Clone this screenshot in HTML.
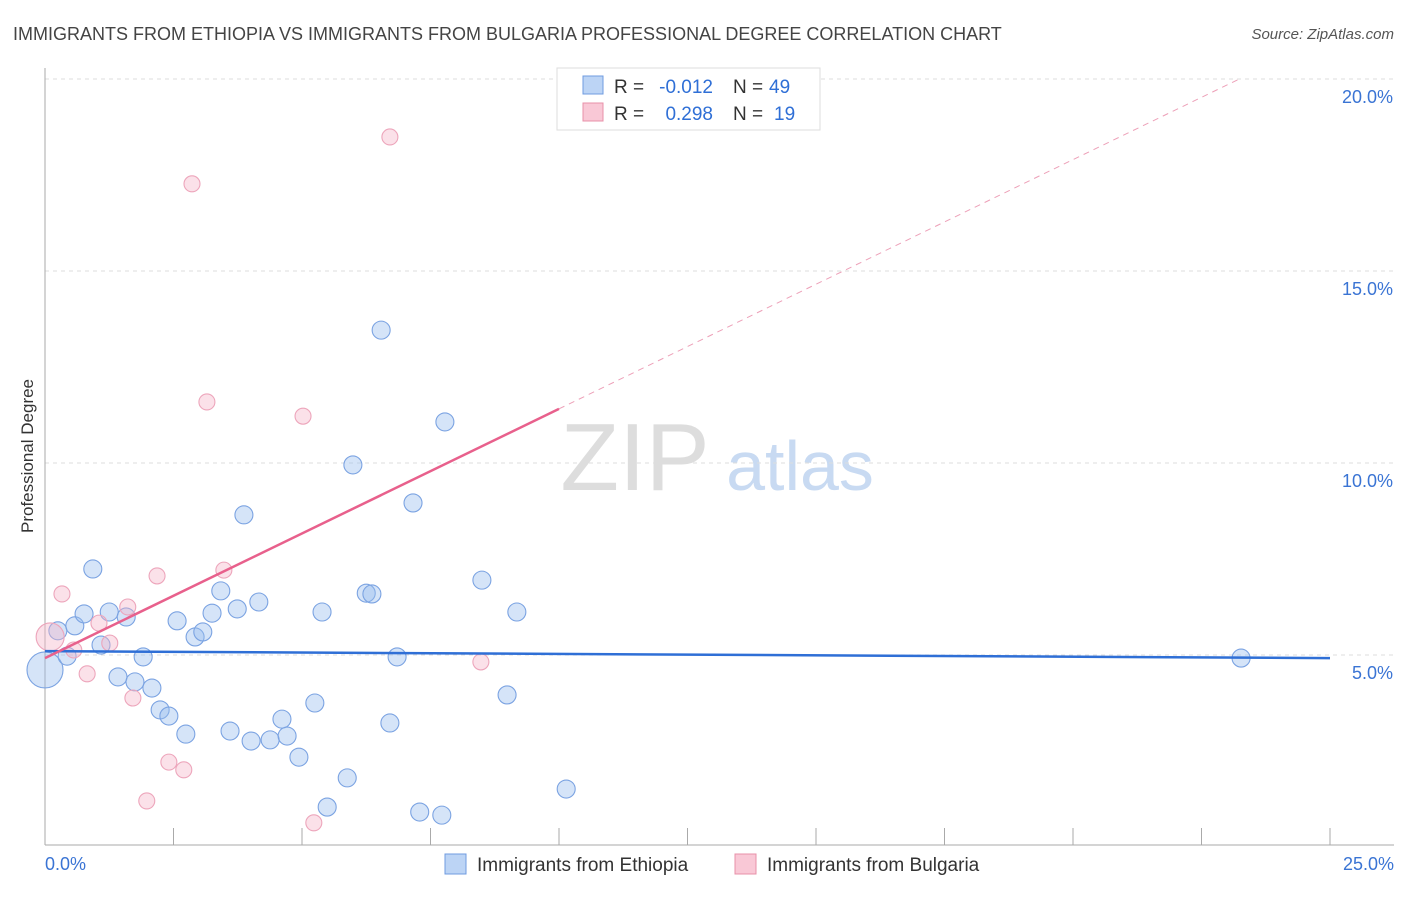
<!DOCTYPE html>
<html><head><meta charset="utf-8"><style>
body{margin:0;background:#fff;font-family:"Liberation Sans",sans-serif;}
svg text{font-family:"Liberation Sans",sans-serif;}
</style></head><body>
<svg id="chart" width="1406" height="892" xmlns="http://www.w3.org/2000/svg">
<text x="13" y="40" font-size="18" fill="#444">IMMIGRANTS FROM ETHIOPIA VS IMMIGRANTS FROM BULGARIA PROFESSIONAL DEGREE CORRELATION CHART</text>
<text x="1394" y="39" font-size="15" fill="#555" text-anchor="end" font-style="italic">Source: ZipAtlas.com</text>
<text transform="translate(33,456) rotate(-90)" font-size="17" fill="#333" text-anchor="middle">Professional Degree</text>
<g><text x="635" y="490" font-size="96" fill="#ddd" text-anchor="middle" font-family="Liberation Serif">ZIP</text><text x="800" y="490" font-size="70" fill="#c8daf2" text-anchor="middle">atlas</text></g>
<g id="grid"></g><g id="axes"></g><g id="pts"></g><g id="trends"></g>
<g>
<rect x="557" y="68" width="263" height="62" fill="#fff" stroke="#ddd"/>
<rect x="583" y="76" width="20" height="18" fill="#bcd4f5" stroke="#6f9be0"/>
<text x="614" y="93" font-size="19" fill="#333">R =</text>
<text x="713" y="93" font-size="19" fill="#2f6fd6" text-anchor="end">-0.012</text>
<text x="733" y="93" font-size="19" fill="#333">N =</text>
<text x="769" y="93" font-size="19" fill="#2f6fd6">49</text>
<rect x="583" y="103" width="20" height="18" fill="#f9c8d6" stroke="#e890a8"/>
<text x="614" y="120" font-size="19" fill="#333">R =</text>
<text x="713" y="120" font-size="19" fill="#2f6fd6" text-anchor="end">0.298</text>
<text x="733" y="120" font-size="19" fill="#333">N =</text>
<text x="774" y="120" font-size="19" fill="#2f6fd6">19</text>
</g>
<g>
<rect x="445" y="854" width="21" height="20" fill="#bcd4f5" stroke="#6f9be0"/>
<text x="477" y="871" font-size="19" fill="#333">Immigrants from Ethiopia</text>
<rect x="735" y="854" width="21" height="20" fill="#f9c8d6" stroke="#e890a8"/>
<text x="767" y="871" font-size="19" fill="#333">Immigrants from Bulgaria</text>
</g>
</svg>
<script>
const blueX=[0,0.25,0.43,0.58,0.76,0.93,1.09,1.25,1.42,1.58,1.75,1.91,2.08,2.24,2.41,2.57,2.74,2.92,3.07,3.25,3.42,3.6,3.74,3.87,4.01,4.16,4.38,4.61,4.71,4.94,5.25,5.39,5.49,5.88,5.99,6.25,6.36,6.54,6.71,6.85,7.16,7.29,7.72,7.78,8.5,8.99,9.18,10.14,23.27];
const blueY=[4.61,5.63,4.97,5.76,6.07,7.24,5.26,6.12,4.43,5.99,4.3,4.95,4.14,3.57,3.41,5.89,2.94,5.47,5.6,6.09,6.67,3.02,6.2,8.65,2.76,6.38,2.79,3.33,2.89,2.34,3.75,6.12,1.04,1.8,9.95,6.61,6.59,13.46,3.23,4.95,8.96,0.91,0.83,11.07,6.95,3.96,6.12,1.51,4.92];
const pinkX=[0.1,0.33,0.56,0.82,1.05,1.26,1.61,1.71,1.98,2.18,2.41,2.7,2.86,3.15,3.48,5.02,5.23,6.71,8.48];
const pinkY=[5.47,6.59,5.13,4.51,5.83,5.31,6.25,3.88,1.2,7.06,2.21,2.01,17.27,11.59,7.21,11.22,0.63,18.49,4.82];
const yTicks=[5,10,15,20];
const blueTrend=[5.1,4.92];
const pinkTrend=[4.92,0.649];
const NS="http://www.w3.org/2000/svg";
const sx=v=>45+v*51.4, sy=v=>847-v*38.4;
function mk(tag,attrs,parent){const e=document.createElementNS(NS,tag);for(const k in attrs)e.setAttribute(k,attrs[k]);document.getElementById(parent).appendChild(e);return e;}
yTicks.forEach(t=>{
 const g=mk('line',{x1:45,x2:1394,y1:sy(t),y2:sy(t),stroke:'#ddd','stroke-dasharray':'4,4'},'grid');
 
 
 const l=mk('text',{x:1393,y:sy(t)+24,'font-size':18,fill:'#3a74d4','text-anchor':'end'},'grid');
 l.textContent=t.toFixed(1)+'%';
 
 
});
const ax=mk('line',{x1:45,x2:45,y1:68,y2:845,stroke:'#aaa'},'axes');


const bx=mk('line',{x1:45,x2:1394,y1:845,y2:845,stroke:'#aaa'},'axes');


for(let i=0;i<=10;i++){const t=mk('line',{x1:sx(i*2.5),x2:sx(i*2.5),y1:828,y2:845,stroke:'#aaa'},'axes');
 
 }
const x0=mk('text',{x:45,y:870,'font-size':18,fill:'#3a74d4'},'axes');x0.textContent='0.0%';


const x1=mk('text',{x:1394,y:870,'font-size':18,fill:'#3a74d4','text-anchor':'end'},'axes');x1.textContent='25.0%';


blueX.forEach((v,i)=>{const c=mk('circle',{cx:sx(v),cy:sy(blueY[i]),r:i===0?18:9,fill:'rgba(150,188,238,0.4)',stroke:'#7ba3e2','stroke-width':1.1},'pts');
 
 });
pinkX.forEach((v,i)=>{const c=mk('circle',{cx:sx(v),cy:sy(pinkY[i]),r:i===0?14:8,fill:'rgba(246,180,200,0.4)',stroke:'#eda5bb','stroke-width':1.1},'pts');
 
 });
const bt=mk('line',{x1:sx(0),y1:sy(blueTrend[0]),x2:sx(25),y2:sy(blueTrend[1]),stroke:'#2f6fd6','stroke-width':2.5},'trends');


const pe=(20-pinkTrend[0])/pinkTrend[1];
const pt=mk('line',{x1:sx(0),y1:sy(pinkTrend[0]),x2:sx(10),y2:sy(pinkTrend[0]+10*pinkTrend[1]),stroke:'#e8608c','stroke-width':2.5},'trends');


const pd=mk('line',{x1:sx(10),y1:sy(pinkTrend[0]+10*pinkTrend[1]),x2:sx(pe),y2:sy(20),stroke:'#eda0b8','stroke-width':1,'stroke-dasharray':'6,5'},'trends');


</script>
</body></html>
